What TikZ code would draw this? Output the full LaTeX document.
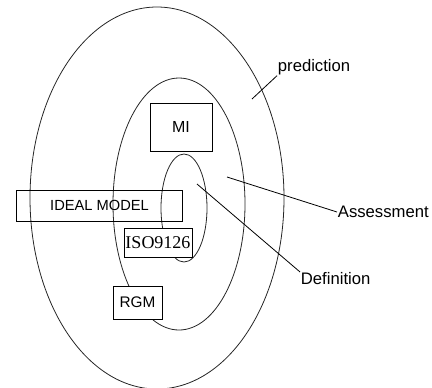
\documentclass[tikz,border=0pt]{standalone}
\usepackage{fontspec}
\setmainfont{Liberation Sans}
\newfontfamily\isofont{Liberation Serif}
\tikzset{
  ring/.style={draw=black!85,line width=0.6pt},
  mbox/.style={rectangle,draw=black,line width=0.7pt,fill=white,
    inner sep=0pt,align=center,font=\fontsize{12}{14}\selectfont},
  lbl/.style={inner sep=0.5pt,anchor=west,
    font=\fontsize{12.5}{15}\selectfont},
  lead/.style={draw=black,line width=0.6pt},
}

\begin{document}
\begin{tikzpicture}[x=0.75pt,y=-0.75pt]
  \useasboundingbox (0,0) rectangle (432,387);

  % nested rings
  \draw[ring] (157,198) ellipse [x radius=127,y radius=191];
  \draw[ring] (179,204) ellipse [x radius=66,y radius=126];
  \draw[ring] (184,208) ellipse [x radius=23,y radius=54];

  % boxes
  \node[mbox,minimum width=46.5pt,minimum height=36pt] (mi) at (181,127) {MI};
  \node[mbox,fill=none,minimum width=125pt,minimum height=23.25pt,
    font=\fontsize{11}{13}\selectfont] (ideal) at (99.5,205.5) {IDEAL MODEL};
  \node[mbox,minimum width=51pt,minimum height=21.75pt,
    font=\isofont\fontsize{13.5}{15}\selectfont] (iso) at (158,242.5) {ISO9126};
  \node[mbox,minimum width=36.75pt,minimum height=24.75pt,
    font=\fontsize{11.5}{13}\selectfont] (rgm) at (137.5,302.5) {RGM};

  % labels and leaders
  \node[lbl] (pred) at (277,67) {prediction};
  \node[lbl] (assess) at (337,212) {Assessment};
  \node[lbl] (defn) at (300,279) {Definition};
  \coordinate (predpt) at (252,99);
  \coordinate (assesspt) at (227,177);
  \coordinate (defnpt) at (197,184);

  \draw[lead] (predpt) -- (pred.south west);
  \draw[lead] (assesspt) -- (assess.west);
  \draw[lead] (defnpt) -- (defn.north west);
\end{tikzpicture}
\end{document}
